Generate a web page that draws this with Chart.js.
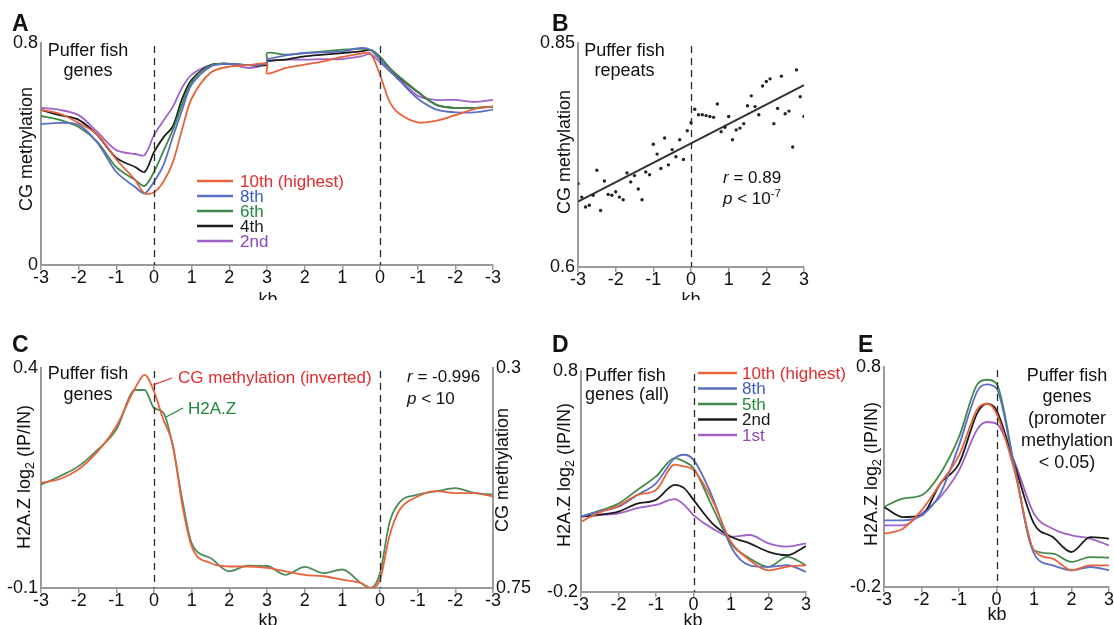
<!DOCTYPE html>
<html lang="en">
<head>
<meta charset="UTF-8">
<title>Puffer fish CG methylation and H2A.Z</title>
<script src="https://cdn.jsdelivr.net/npm/chart.js@4"></script>
<style>
  body { margin: 0; background: #fff; width: 1114px; height: 625px; position: relative; overflow: hidden; }
  canvas { position: absolute; }
</style>
</head>
<body>
<canvas id="chartA" width="510" height="300" style="left:0;top:0"></canvas>
<canvas id="chartB" width="300" height="300" style="left:510px;top:0"></canvas>
<canvas id="chartC" width="540" height="305" style="left:0;top:320px"></canvas>
<canvas id="chartD" width="310" height="305" style="left:540px;top:320px"></canvas>
<canvas id="chartE" width="274" height="305" style="left:840px;top:320px"></canvas>

<script>
// ---------- data ----------

// A: position along the gene, 0..12 = 3 kb upstream .. start .. end .. 3 kb downstream
const aPos = [0, 0.5, 1, 1.5, 2, 2.5, 2.75, 3, 3.25, 3.5, 3.75, 4, 4.5, 5, 5.5, 6, 6, 6.5, 7, 7.5, 8, 8.5, 8.75, 9, 9.25, 9.5, 10, 10.5, 11, 11.5, 12];
const aTickLabels = ['-3', '-2', '-1', '0', '1', '2', '3', '2', '1', '0', '-1', '-2', '-3'];
const aYTicks = [0, 0.8];
const aLegend = ['10th (highest)', '8th', '6th', '4th', '2nd'];
const a10th = [0.559, 0.545, 0.512, 0.47, 0.38, 0.306, 0.258, 0.262, 0.30, 0.37, 0.49, 0.60, 0.693, 0.715, 0.72, 0.725, 0.69, 0.71, 0.722, 0.734, 0.75, 0.762, 0.762, 0.685, 0.59, 0.547, 0.514, 0.52, 0.54, 0.562, 0.572];
const a8th = [0.508, 0.512, 0.505, 0.44, 0.335, 0.281, 0.258, 0.30, 0.36, 0.462, 0.56, 0.65, 0.715, 0.725, 0.72, 0.725, 0.74, 0.755, 0.764, 0.766, 0.77, 0.782, 0.775, 0.74, 0.70, 0.667, 0.60, 0.56, 0.55, 0.55, 0.56];
const a6th = [0.537, 0.523, 0.497, 0.443, 0.353, 0.306, 0.285, 0.335, 0.41, 0.487, 0.58, 0.66, 0.72, 0.725, 0.72, 0.73, 0.764, 0.758, 0.764, 0.77, 0.776, 0.779, 0.775, 0.75, 0.71, 0.68, 0.625, 0.577, 0.566, 0.566, 0.57];
const a4th = [0.559, 0.54, 0.523, 0.468, 0.386, 0.353, 0.335, 0.407, 0.46, 0.50, 0.60, 0.667, 0.72, 0.725, 0.72, 0.72, 0.734, 0.74, 0.752, 0.758, 0.764, 0.77, 0.775, 0.75, 0.71, 0.678, 0.623, 0.577, 0.566, 0.566, 0.57];
const a2nd = [0.566, 0.559, 0.54, 0.479, 0.414, 0.40, 0.396, 0.468, 0.52, 0.57, 0.64, 0.686, 0.72, 0.725, 0.71, 0.725, 0.734, 0.74, 0.74, 0.742, 0.742, 0.752, 0.76, 0.73, 0.70, 0.672, 0.61, 0.595, 0.595, 0.588, 0.595];

// B: repeats, methylation by distance (kb) to the gene
const bPos = [-3.0, -2.9, -2.8, -2.7, -2.6, -2.5, -2.4, -2.3, -2.2, -2.1, -2.0, -1.9, -1.8, -1.7, -1.6, -1.5, -1.4, -1.3, -1.2, -1.1, -1.0,
  -0.9, -0.8, -0.7, -0.6, -0.5, -0.4, -0.3, -0.2, -0.1, 0.0, 0.1, 0.2, 0.3, 0.4, 0.5, 0.6, 0.7, 0.8, 0.9, 1.0,
  1.1, 1.2, 1.3, 1.4, 1.5, 1.6, 1.7, 1.8, 1.9, 2.0, 2.1, 2.2, 2.3, 2.4, 2.5, 2.6, 2.7, 2.8, 2.9, 3.0];
const bMeth = [0.693, 0.678, 0.667, 0.669, 0.680, 0.708, 0.663, 0.696, 0.681, 0.680, 0.684, 0.678, 0.675, 0.705, 0.695, 0.702, 0.687, 0.675, 0.706, 0.703, 0.737,
  0.726, 0.710, 0.744, 0.714, 0.731, 0.723, 0.742, 0.720, 0.752, 0.761, 0.776, 0.770, 0.770, 0.769, 0.768, 0.767, 0.782, 0.751, 0.756, 0.768,
  0.742, 0.753, 0.755, 0.760, 0.780, 0.791, 0.779, 0.770, 0.802, 0.807, 0.810, 0.760, 0.777, 0.813, 0.771, 0.774, 0.734, 0.820, 0.790, 0.768];
const bFitX = [-3, 3];
const bFitY = [0.673, 0.803];
const bXTicks = [-3, -2, -1, 0, 1, 2, 3];
const bYTicks = [0.6, 0.85];

// C: H2A.Z vs inverted CG methylation, same gene coordinates as A
const cPos = [0, 0.5, 1, 1.5, 2, 2.5, 2.75, 3, 3.25, 3.5, 3.75, 4, 4.5, 5, 5.5, 6, 6.5, 7, 7.5, 8, 8.5, 8.75, 9, 9.25, 9.5, 10, 10.5, 11, 11.5, 12];
const cH2AZ = [0.135, 0.154, 0.177, 0.214, 0.26, 0.35, 0.35, 0.309, 0.298, 0.222, 0.101, 0.002, -0.032, -0.062, -0.049, -0.05, -0.07, -0.052, -0.066, -0.058, -0.089, -0.1, -0.066, 0.048, 0.093, 0.112, 0.12, 0.127, 0.116, 0.112];
const cCGinv = [0.535, 0.527, 0.507, 0.471, 0.419, 0.341, 0.314, 0.348, 0.406, 0.457, 0.580, 0.665, 0.699, 0.706, 0.706, 0.709, 0.716, 0.723, 0.726, 0.733, 0.740, 0.750, 0.733, 0.644, 0.593, 0.563, 0.552, 0.556, 0.556, 0.563];
const cYTicks = [-0.1, 0.4];
const cY2Ticks = [0.3, 0.75];

// D: H2A.Z around TSS, genes split by expression
const dPos = [-3, -2.5, -2, -1.5, -1, -0.5, -0.25, 0, 0.5, 1, 1.5, 2, 2.5, 3];
const dLegend = ['10th (highest)', '8th', '5th', '2nd', '1st'];
const d10th = [0.118, 0.16, 0.19, 0.239, 0.262, 0.376, 0.368, 0.353, 0.217, 0.027, -0.056, -0.102, -0.086, -0.079];
const d8th = [0.141, 0.165, 0.186, 0.239, 0.292, 0.406, 0.421, 0.398, 0.232, 0.005, -0.079, -0.086, -0.079, -0.109];
const d5th = [0.141, 0.168, 0.20, 0.262, 0.323, 0.406, 0.39, 0.361, 0.186, 0.02, -0.048, -0.086, -0.041, -0.079];
const d2nd = [0.141, 0.15, 0.164, 0.20, 0.217, 0.285, 0.27, 0.217, 0.111, 0.05, 0.02, -0.018, -0.033, 0.008];
const d1st = [0.141, 0.148, 0.156, 0.179, 0.194, 0.22, 0.194, 0.148, 0.088, 0.05, 0.058, 0.02, 0.005, 0.02];
const hYTicks = [-0.2, 0.8];

// E: same, genes with promoter methylation < 0.05
const ePos = [-3, -2.5, -2, -1.5, -1, -0.5, -0.25, 0, 0.5, 1, 1.5, 2, 2.5, 3];
const e10th = [0.042, 0.065, 0.148, 0.27, 0.398, 0.611, 0.633, 0.588, 0.315, -0.033, -0.071, -0.124, -0.102, -0.102];
const e8th = [0.103, 0.103, 0.126, 0.224, 0.444, 0.694, 0.721, 0.702, 0.323, -0.048, -0.102, -0.124, -0.109, -0.124];
const e5th = [0.164, 0.202, 0.217, 0.315, 0.482, 0.724, 0.742, 0.724, 0.33, -0.033, -0.048, -0.086, -0.064, -0.067];
const e2nd = [0.164, 0.118, 0.126, 0.27, 0.361, 0.595, 0.633, 0.603, 0.345, 0.088, 0.027, -0.041, 0.027, 0.02];
const e1st = [0.08, 0.08, 0.133, 0.209, 0.33, 0.52, 0.55, 0.542, 0.361, 0.133, 0.065, 0.035, 0.02, -0.011];

// ---------- style ----------
const FONT = "'Liberation Sans', Arial, Helvetica, sans-serif";
const AXIS = '#9a9a9a';
const LINE = { red: '#e6633d', blue: '#5c6fc2', green: '#418a4c', black: '#1c1c1c', purple: '#a062c6' };
const TXT = { red: '#e32b2e', blue: '#3d5bbf', green: '#23883b', black: '#1a1a1a', purple: '#9046bd' };

Chart.defaults.font.family = FONT;
Chart.defaults.font.size = 18;
Chart.defaults.color = '#111';

function pts(xs, ys) {
    return xs.map((x, i) => ({ x: x, y: ys[i] }));
}

function lineSet(label, xs, ys, color, axis, mono) {
    return {
        label: label, data: pts(xs, ys), borderColor: color, borderWidth: 1.8,
        pointRadius: 0, fill: false, tension: 0.3, yAxisID: axis || 'y',
        cubicInterpolationMode: mono ? 'monotone' : 'default'
    };
}

function xAxis(min, max, tickVals, labels, height) {
    return {
        type: 'linear', min: min, max: max,
        afterBuildTicks: s => { s.ticks = tickVals.map(v => ({ value: v })); },
        ticks: { autoSkip: false, maxRotation: 0, padding: -3, color: '#111',
                 callback: (v, i) => labels ? labels[i] : String(v) },
        grid: { drawOnChartArea: false, drawTicks: true, tickLength: 5, color: AXIS, lineWidth: 1.5 },
        border: { color: AXIS, width: 2 },
        afterFit: s => { s.height = height; s.paddingLeft = 0; s.paddingRight = 0; }
    };
}

function yAxis(min, max, tickVals, width, pos, reverse) {
    return {
        type: 'linear', position: pos || 'left', min: min, max: max, reverse: !!reverse,
        afterBuildTicks: s => { s.ticks = tickVals.map(v => ({ value: v })); },
        ticks: { padding: 3, color: '#111', callback: v => String(v) },
        grid: { drawOnChartArea: false, drawTicks: false, color: AXIS },
        border: { color: AXIS, width: 2 },
        afterFit: s => { s.width = width; s.paddingTop = 0; s.paddingBottom = 0; }
    };
}

// text with italic / sub / superscript pieces
function drawParts(ctx, t) {
    const size = t.size || 18;
    const parts = t.parts || [{ t: t.text }];
    const fontFor = p => (p.italic ? 'italic ' : '') + (t.bold ? 'bold ' : '') + ((p.sup || p.sub) ? size * 0.68 : size) + 'px ' + FONT;
    let total = 0;
    const widths = parts.map(p => { ctx.font = fontFor(p); const w = ctx.measureText(p.t).width; total += w; return w; });
    ctx.save();
    ctx.translate(t.x, t.y);
    if (t.rot) ctx.rotate(t.rot);
    ctx.fillStyle = t.color || '#111';
    ctx.textBaseline = t.baseline || 'alphabetic';
    ctx.textAlign = 'left';
    let x = t.align === 'center' ? -total / 2 : 0;
    parts.forEach((p, i) => {
        ctx.font = fontFor(p);
        const dy = p.sup ? -size * 0.42 : (p.sub ? size * 0.3 : 0);
        ctx.fillText(p.t, x, dy);
        x += widths[i];
    });
    ctx.restore();
}

function annot(spec) {
    return {
        id: 'annot',
        afterDraw(chart) {
            const ctx = chart.ctx, area = chart.chartArea, xs = chart.scales.x;
            ctx.save();
            // dashed lines at gene start / end
            ctx.setLineDash([7, 5]);
            ctx.strokeStyle = '#2a2a2a';
            ctx.lineWidth = 1.3;
            (spec.dashes || []).forEach(v => {
                const px = Math.round(xs.getPixelForValue(v)) + 0.5;
                ctx.beginPath();
                ctx.moveTo(px, area.top + 3);
                ctx.lineTo(px, area.bottom);
                ctx.stroke();
            });
            ctx.setLineDash([]);
            // little pointer lines
            (spec.segs || []).forEach(s => {
                ctx.beginPath();
                ctx.strokeStyle = s.color;
                ctx.lineWidth = 1.3;
                ctx.moveTo(s.x0, s.y0);
                ctx.lineTo(s.x1, s.y1);
                ctx.stroke();
            });
            // legend
            if (spec.legend) {
                const L = spec.legend;
                L.items.forEach((it, i) => {
                    const y = L.y0 + i * L.dy;
                    ctx.beginPath();
                    ctx.strokeStyle = it.line;
                    ctx.lineWidth = 2.6;
                    ctx.moveTo(L.x0, y);
                    ctx.lineTo(L.x1, y);
                    ctx.stroke();
                    drawParts(ctx, { text: it.label, x: L.xt, y: y + 1, size: 17, color: it.text, baseline: 'middle' });
                });
            }
            (spec.texts || []).forEach(t => drawParts(ctx, t));
            ctx.restore();
        }
    };
}

function baseOptions(padding, scales) {
    return {
        responsive: false, animation: false, devicePixelRatio: 1,
        layout: { padding: padding },
        plugins: { legend: { display: false }, tooltip: { enabled: false } },
        scales: scales
    };
}

const UP = -Math.PI / 2;
const h2azTitle = [{ t: 'H2A.Z log' }, { t: '2', sub: true }, { t: ' (IP/IN)' }];
const kbTicks = bXTicks;
const gTicks = aTickLabels.map((l, i) => i);

// ---------- A ----------
new Chart(document.getElementById('chartA'), {
    type: 'line',
    data: {
        datasets: [
            lineSet(aLegend[0], aPos, a10th, LINE.red),
            lineSet(aLegend[1], aPos, a8th, LINE.blue),
            lineSet(aLegend[2], aPos, a6th, LINE.green),
            lineSet(aLegend[3], aPos, a4th, LINE.black),
            lineSet(aLegend[4], aPos, a2nd, LINE.purple)
        ]
    },
    options: baseOptions({ left: 0, top: 43, right: 17, bottom: 0 }, {
        x: xAxis(0, 12, gTicks, aTickLabels, 35),
        y: yAxis(0, 0.8, aYTicks, 41)
    }),
    plugins: [annot({
        dashes: [3, 9],
        legend: {
            x0: 197, x1: 233, xt: 240, y0: 181, dy: 15,
            items: [
                { label: aLegend[0], line: LINE.red, text: TXT.red },
                { label: aLegend[1], line: LINE.blue, text: TXT.blue },
                { label: aLegend[2], line: LINE.green, text: TXT.green },
                { label: aLegend[3], line: LINE.black, text: TXT.black },
                { label: aLegend[4], line: LINE.purple, text: TXT.purple }
            ]
        },
        texts: [
            { text: 'A', x: 12, y: 31, size: 23, bold: true },
            { text: 'Puffer fish', x: 88, y: 55.5, align: 'center' },
            { text: 'genes', x: 88, y: 75.5, align: 'center' },
            { text: 'CG methylation', x: 27, y: 149, rot: UP, align: 'center', baseline: 'middle' },
            { text: 'kb', x: 268, y: 305, align: 'center' }
        ]
    })]
});

// ---------- B ----------
new Chart(document.getElementById('chartB'), {
    type: 'line',
    data: {
        datasets: [
            { label: 'repeats', data: pts(bPos, bMeth), showLine: false, pointRadius: 1.7,
              pointBackgroundColor: '#222', pointBorderWidth: 0 },
            { label: 'fit', data: pts(bFitX, bFitY), borderColor: '#333', borderWidth: 2, pointRadius: 0 }
        ]
    },
    options: baseOptions({ left: 0, top: 43, right: 6, bottom: 0 }, {
        x: xAxis(-3, 3, kbTicks, null, 33),
        y: yAxis(0.6, 0.85, bYTicks, 68)
    }),
    plugins: [annot({
        dashes: [0],
        texts: [
            { text: 'B', x: 42, y: 31, size: 23, bold: true },
            { text: 'Puffer fish', x: 114.5, y: 56, align: 'center' },
            { text: 'repeats', x: 114.5, y: 76, align: 'center' },
            { parts: [{ t: 'r', italic: true }, { t: ' = 0.89' }], x: 213, y: 183, size: 17 },
            { parts: [{ t: 'p', italic: true }, { t: ' < 10' }, { t: '-7', sup: true }], x: 213, y: 204, size: 17 },
            { text: 'CG methylation', x: 55, y: 152, rot: UP, align: 'center', baseline: 'middle' },
            { text: 'kb', x: 181, y: 305, align: 'center' }
        ]
    })]
});

// ---------- C ----------
new Chart(document.getElementById('chartC'), {
    type: 'line',
    data: {
        datasets: [
            lineSet('CG methylation (inverted)', cPos, cCGinv, LINE.red, 'y2', true),
            lineSet('H2A.Z', cPos, cH2AZ, '#4d8c58', 'y', true)
        ]
    },
    options: baseOptions({ left: 0, top: 48, right: 0, bottom: 0 }, {
        x: xAxis(0, 12, gTicks, aTickLabels, 37),
        y: yAxis(-0.1, 0.4, cYTicks, 41),
        y2: yAxis(0.3, 0.75, cY2Ticks, 47, 'right', true)
    }),
    plugins: [annot({
        dashes: [3, 9],
        segs: [
            { x0: 153, y0: 65, x1: 172, y1: 58, color: TXT.red },
            { x0: 166, y0: 97, x1: 183, y1: 88, color: TXT.green }
        ],
        texts: [
            { text: 'C', x: 12, y: 32, size: 23, bold: true },
            { text: 'Puffer fish', x: 88, y: 59, align: 'center' },
            { text: 'genes', x: 88, y: 80, align: 'center' },
            { text: 'CG methylation (inverted)', x: 178, y: 63, size: 17, color: TXT.red },
            { text: 'H2A.Z', x: 188, y: 94, size: 17, color: TXT.green },
            { parts: [{ t: 'r', italic: true }, { t: ' = -0.996' }], x: 407, y: 62, size: 17 },
            { parts: [{ t: 'p', italic: true }, { t: ' < 10' }], x: 407, y: 84, size: 17 },
            { parts: h2azTitle, x: 25, y: 157, rot: UP, align: 'center', baseline: 'middle' },
            { text: 'CG methylation', x: 503, y: 150, rot: UP, align: 'center', baseline: 'middle' },
            { text: 'kb', x: 268, y: 306, align: 'center' }
        ]
    })]
});

// ---------- D ----------
new Chart(document.getElementById('chartD'), {
    type: 'line',
    data: {
        datasets: [
            lineSet(dLegend[0], dPos, d10th, LINE.red, 'y', true),
            lineSet(dLegend[1], dPos, d8th, LINE.blue, 'y', true),
            lineSet(dLegend[2], dPos, d5th, LINE.green, 'y', true),
            lineSet(dLegend[3], dPos, d2nd, LINE.black, 'y', true),
            lineSet(dLegend[4], dPos, d1st, LINE.purple, 'y', true)
        ]
    },
    options: baseOptions({ left: 0, top: 51, right: 44, bottom: 0 }, {
        x: xAxis(-3, 3, kbTicks, null, 33),
        y: yAxis(-0.2, 0.8, hYTicks, 41)
    }),
    plugins: [annot({
        dashes: [0],
        legend: {
            x0: 158, x1: 197, xt: 202, y0: 53, dy: 15.5,
            items: [
                { label: dLegend[0], line: LINE.red, text: TXT.red },
                { label: dLegend[1], line: LINE.blue, text: TXT.blue },
                { label: dLegend[2], line: LINE.green, text: TXT.green },
                { label: dLegend[3], line: LINE.black, text: TXT.black },
                { label: dLegend[4], line: LINE.purple, text: TXT.purple }
            ]
        },
        texts: [
            { text: 'D', x: 12, y: 32, size: 23, bold: true },
            { text: 'Puffer fish', x: 45, y: 61 },
            { text: 'genes (all)', x: 45, y: 80 },
            { parts: h2azTitle, x: 25, y: 155, rot: UP, align: 'center', baseline: 'middle' },
            { text: 'kb', x: 153, y: 306, align: 'center' }
        ]
    })]
});

// ---------- E ----------
new Chart(document.getElementById('chartE'), {
    type: 'line',
    data: {
        datasets: [
            lineSet(dLegend[0], ePos, e10th, LINE.red, 'y', true),
            lineSet(dLegend[1], ePos, e8th, LINE.blue, 'y', true),
            lineSet(dLegend[2], ePos, e5th, LINE.green, 'y', true),
            lineSet(dLegend[3], ePos, e2nd, LINE.black, 'y', true),
            lineSet(dLegend[4], ePos, e1st, LINE.purple, 'y', true)
        ]
    },
    options: baseOptions({ left: 0, top: 47, right: 5, bottom: 0 }, {
        x: xAxis(-3, 3, kbTicks, null, 38),
        y: yAxis(-0.2, 0.8, hYTicks, 44)
    }),
    plugins: [annot({
        dashes: [0],
        texts: [
            { text: 'E', x: 18, y: 32, size: 23, bold: true },
            { text: 'Puffer fish', x: 227, y: 61, align: 'center' },
            { text: 'genes', x: 227, y: 82, align: 'center' },
            { text: '(promoter', x: 227, y: 104, align: 'center' },
            { text: 'methylation', x: 227, y: 126, align: 'center' },
            { text: '< 0.05)', x: 227, y: 148, align: 'center' },
            { parts: h2azTitle, x: 32, y: 154, rot: UP, align: 'center', baseline: 'middle' },
            { text: 'kb', x: 157, y: 300, align: 'center' }
        ]
    })]
});
</script>
</body>
</html>
